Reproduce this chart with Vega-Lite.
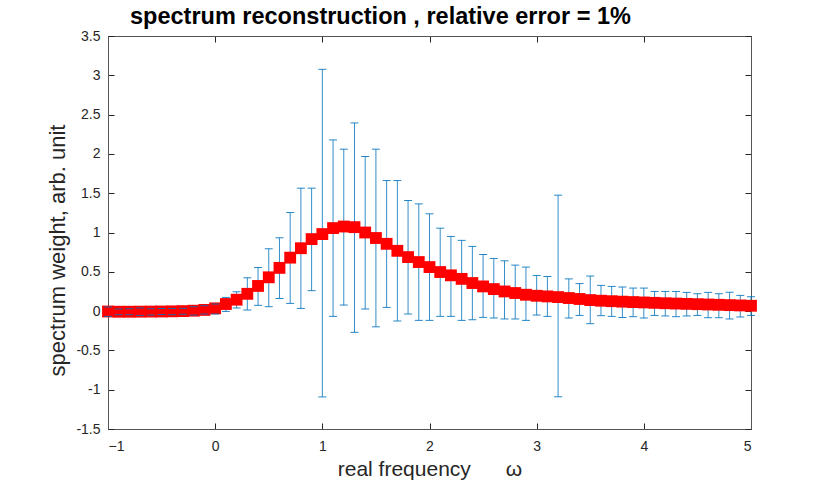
{
  "$schema": "https://vega.github.io/schema/vega-lite/v6.json",
  "autosize": "none",
  "width": 643,
  "height": 393,
  "padding": {"left": 108, "top": 36, "right": 79, "bottom": 54},
  "background": "white",
  "title": {
    "text": "spectrum reconstruction , relative error = 1%",
    "anchor": "start",
    "frame": "group",
    "dx": 22,
    "offset": 1,
    "font": "Liberation Sans",
    "fontSize": 23.5,
    "fontWeight": "bold",
    "color": "#000000"
  },
  "config": {
    "view": {"stroke": "#555555", "strokeWidth": 1},
    "axis": {
      "grid": false,
      "labelFont": "Liberation Sans",
      "labelFontSize": 14,
      "labelColor": "#262626",
      "titleFont": "Liberation Sans",
      "titleFontSize": 21,
      "titleFontWeight": "normal",
      "titleColor": "#262626",
      "domainColor": "#555555",
      "tickColor": "#262626",
      "tickSize": -6
    }
  },
  "data": {
    "values": [
      {"w": -1.0, "s": -0.005, "lo": -0.067, "hi": 0.052},
      {"w": -0.9, "s": -0.008, "lo": -0.046, "hi": 0.027},
      {"w": -0.8, "s": -0.008, "lo": -0.046, "hi": 0.03},
      {"w": -0.7, "s": -0.007, "lo": -0.055, "hi": 0.04},
      {"w": -0.6, "s": -0.006, "lo": -0.05, "hi": 0.03},
      {"w": -0.5, "s": -0.005, "lo": -0.043, "hi": 0.033},
      {"w": -0.4, "s": -0.003, "lo": -0.046, "hi": 0.033},
      {"w": -0.3, "s": 0.0, "lo": -0.04, "hi": 0.035},
      {"w": -0.2, "s": 0.005, "lo": -0.05, "hi": 0.056},
      {"w": -0.1, "s": 0.015, "lo": -0.037, "hi": 0.069},
      {"w": 0.0, "s": 0.035, "lo": -0.037, "hi": 0.09},
      {"w": 0.1, "s": 0.09, "lo": -0.004, "hi": 0.174},
      {"w": 0.2, "s": 0.145, "lo": 0.04, "hi": 0.246},
      {"w": 0.3, "s": 0.22, "lo": 0.014, "hi": 0.424},
      {"w": 0.4, "s": 0.32, "lo": 0.073, "hi": 0.555},
      {"w": 0.5, "s": 0.43, "lo": 0.056, "hi": 0.793},
      {"w": 0.6, "s": 0.55, "lo": 0.16, "hi": 0.933},
      {"w": 0.7, "s": 0.68, "lo": 0.098, "hi": 1.254},
      {"w": 0.8, "s": 0.8, "lo": 0.034, "hi": 1.564},
      {"w": 0.9, "s": 0.916, "lo": 0.26, "hi": 1.564},
      {"w": 1.0, "s": 0.98, "lo": -1.092, "hi": 3.076},
      {"w": 1.1, "s": 1.056, "lo": -0.067, "hi": 2.178},
      {"w": 1.2, "s": 1.076, "lo": 0.077, "hi": 2.06},
      {"w": 1.3, "s": 1.068, "lo": -0.27, "hi": 2.394},
      {"w": 1.4, "s": 1.0, "lo": 0.026, "hi": 1.966},
      {"w": 1.5, "s": 0.93, "lo": -0.2, "hi": 2.06},
      {"w": 1.6, "s": 0.856, "lo": 0.047, "hi": 1.661},
      {"w": 1.7, "s": 0.767, "lo": -0.126, "hi": 1.661},
      {"w": 1.8, "s": 0.687, "lo": -0.037, "hi": 1.407},
      {"w": 1.9, "s": 0.624, "lo": -0.118, "hi": 1.364},
      {"w": 2.0, "s": 0.56, "lo": -0.118, "hi": 1.238},
      {"w": 2.1, "s": 0.497, "lo": -0.067, "hi": 1.055},
      {"w": 2.2, "s": 0.455, "lo": -0.067, "hi": 0.95},
      {"w": 2.3, "s": 0.41, "lo": -0.118, "hi": 0.9},
      {"w": 2.4, "s": 0.357, "lo": -0.11, "hi": 0.823},
      {"w": 2.5, "s": 0.314, "lo": -0.08, "hi": 0.72},
      {"w": 2.6, "s": 0.28, "lo": -0.088, "hi": 0.67},
      {"w": 2.7, "s": 0.25, "lo": -0.1, "hi": 0.64},
      {"w": 2.8, "s": 0.23, "lo": -0.1, "hi": 0.585},
      {"w": 2.9, "s": 0.208, "lo": -0.118, "hi": 0.56},
      {"w": 3.0, "s": 0.195, "lo": -0.05, "hi": 0.454},
      {"w": 3.1, "s": 0.187, "lo": -0.067, "hi": 0.44},
      {"w": 3.2, "s": 0.178, "lo": -1.09, "hi": 1.475},
      {"w": 3.3, "s": 0.166, "lo": -0.088, "hi": 0.41},
      {"w": 3.4, "s": 0.154, "lo": -0.055, "hi": 0.35},
      {"w": 3.5, "s": 0.14, "lo": -0.16, "hi": 0.446},
      {"w": 3.6, "s": 0.132, "lo": -0.058, "hi": 0.327},
      {"w": 3.7, "s": 0.126, "lo": -0.067, "hi": 0.314},
      {"w": 3.8, "s": 0.12, "lo": -0.08, "hi": 0.306},
      {"w": 3.9, "s": 0.115, "lo": -0.071, "hi": 0.293},
      {"w": 4.0, "s": 0.11, "lo": -0.088, "hi": 0.293},
      {"w": 4.1, "s": 0.105, "lo": -0.055, "hi": 0.25},
      {"w": 4.2, "s": 0.1, "lo": -0.062, "hi": 0.25},
      {"w": 4.3, "s": 0.096, "lo": -0.071, "hi": 0.25},
      {"w": 4.4, "s": 0.092, "lo": -0.062, "hi": 0.238},
      {"w": 4.5, "s": 0.088, "lo": -0.055, "hi": 0.221},
      {"w": 4.6, "s": 0.084, "lo": -0.084, "hi": 0.238},
      {"w": 4.7, "s": 0.08, "lo": -0.084, "hi": 0.221},
      {"w": 4.8, "s": 0.076, "lo": -0.1, "hi": 0.24},
      {"w": 4.9, "s": 0.072, "lo": -0.075, "hi": 0.2},
      {"w": 5.0, "s": 0.068, "lo": -0.055, "hi": 0.183}
    ]
  },
  "resolve": {"axis": {"x": "independent", "y": "independent"}},
  "layer": [
    {
      "mark": {"type": "rule", "color": "#0072BD", "strokeWidth": 1, "opacity": 0.8},
      "encoding": {
        "x": {
          "field": "w", "type": "quantitative",
          "scale": {"domain": [-1, 5], "nice": false, "zero": false},
          "axis": {
            "orient": "bottom",
            "values": [-1, 0, 1, 2, 3, 4, 5],
            "labelFontSize": 14,
            "labelPadding": 16,
            "title": "real frequency\u00a0\u00a0\u00a0\u00a0\u00a0 ω",
            "titlePadding": 5
          }
        },
        "y": {
          "field": "lo", "type": "quantitative",
          "scale": {"domain": [-1.5, 3.5], "nice": false, "zero": false},
          "axis": {
            "orient": "left",
            "values": [-1.5, -1, -0.5, 0, 0.5, 1, 1.5, 2, 2.5, 3, 3.5],
            "labelExpr": "'' + datum.value",
            "labelFontSize": 14,
            "labelPadding": 14,
            "title": "spectrum weight, arb. unit",
            "titleFontSize": 22,
            "titlePadding": 6,
            "titleY": 214
          }
        },
        "y2": {"field": "hi"}
      }
    },
    {
      "mark": {"type": "point", "shape": "square", "filled": true, "color": "#FF0000", "size": 140, "opacity": 1},
      "encoding": {
        "x": {"field": "w", "type": "quantitative", "axis": null},
        "y": {"field": "s", "type": "quantitative", "axis": null}
      }
    },
    {
      "mark": {"type": "tick", "orient": "horizontal", "color": "#0072BD", "size": 8, "thickness": 1, "opacity": 0.85},
      "encoding": {
        "x": {"field": "w", "type": "quantitative", "axis": null},
        "y": {"field": "lo", "type": "quantitative", "axis": null}
      }
    },
    {
      "mark": {"type": "tick", "orient": "horizontal", "color": "#0072BD", "size": 8, "thickness": 1, "opacity": 0.85},
      "encoding": {
        "x": {
          "field": "w", "type": "quantitative",
          "axis": {"orient": "top", "values": [-1, 0, 1, 2, 3, 4, 5], "labels": false, "title": null}
        },
        "y": {
          "field": "hi", "type": "quantitative",
          "axis": {"orient": "right", "values": [-1.5, -1, -0.5, 0, 0.5, 1, 1.5, 2, 2.5, 3, 3.5], "labels": false, "title": null}
        }
      }
    }
  ]
}
